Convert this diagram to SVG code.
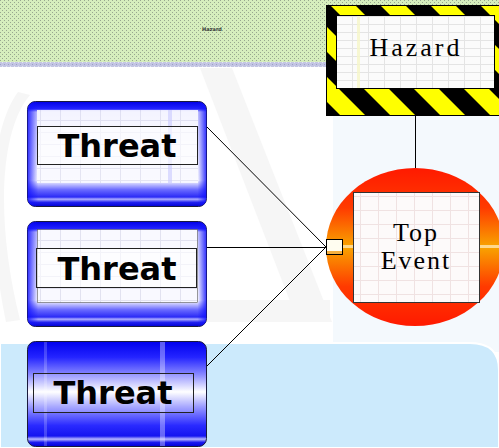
<svg xmlns="http://www.w3.org/2000/svg" width="499" height="448" viewBox="0 0 499 448">
  <style>
    .threat-box { stroke: #1a1a3a; stroke-width: 1; }
    .label-box { stroke: #222; stroke-width: 1; }
    .threat-text { font-family: "DejaVu Sans", Verdana, sans-serif; font-weight: bold; font-size: 32px; fill: #000; text-anchor: middle; }
    .serif-text { font-family: "Liberation Serif", "Times New Roman", serif; font-size: 26px; fill: #000; text-anchor: middle; letter-spacing: 2px; }
    .connector { stroke: #000; stroke-width: 1; fill: none; }
  </style>
  <defs>
    <pattern id="dotsGreen" width="4" height="4" patternUnits="userSpaceOnUse">
      <rect width="4" height="4" fill="#d6eebd"/>
      <rect x="0" y="0" width="1" height="1" fill="#98a88e"/>
      <rect x="2" y="2" width="1" height="1" fill="#98a88e"/>
    </pattern>
    <pattern id="dotsLav" width="4" height="4" patternUnits="userSpaceOnUse">
      <rect width="4" height="4" fill="#c3c5e3"/>
      <rect x="0" y="0" width="1" height="1" fill="#9ea0c8"/>
      <rect x="2" y="2" width="1" height="1" fill="#e4e5f4"/>
    </pattern>
    <pattern id="hazardStripes" width="35.36" height="35.36" patternUnits="userSpaceOnUse" patternTransform="rotate(-45)">
      <rect width="35.36" height="35.36" fill="#ffff00"/>
      <rect width="17.68" height="35.36" fill="#000"/>
    </pattern>
    <pattern id="gridGray" width="16" height="16" patternUnits="userSpaceOnUse">
      <rect width="16" height="16" fill="#fbfbfb"/>
      <path d="M0 0.5H16M0.5 0V16M0 8.5H16" stroke="#e4e4e4" stroke-width="1" fill="none"/>
    </pattern>
    <pattern id="gridBlue" width="20" height="12" patternUnits="userSpaceOnUse">
      <rect width="20" height="12" fill="#f9f9ff"/>
      <path d="M0 0.5H20M0.5 0V12" stroke="#e2e2f0" stroke-width="1" fill="none"/>
    </pattern>
    <pattern id="gridPink" width="18" height="14" patternUnits="userSpaceOnUse">
      <rect width="18" height="14" fill="#fdfafa"/>
      <path d="M0 0.5H18M0.5 0V14" stroke="#f0e2e2" stroke-width="1" fill="none"/>
    </pattern>
    <linearGradient id="threatFill" x1="0" y1="0" x2="0" y2="1">
      <stop offset="0" stop-color="#0000e6"/>
      <stop offset="0.07" stop-color="#2323ff"/>
      <stop offset="0.1" stop-color="#c8c8ff"/>
      <stop offset="0.75" stop-color="#ffffff"/>
      <stop offset="0.84" stop-color="#6a6aff"/>
      <stop offset="0.91" stop-color="#2a2af6"/>
      <stop offset="0.93" stop-color="#b0b0ff"/>
      <stop offset="0.96" stop-color="#2020f0"/>
      <stop offset="1" stop-color="#0000d4"/>
    </linearGradient>
    <linearGradient id="threatFill3" x1="0" y1="0" x2="0" y2="1">
      <stop offset="0" stop-color="#0000ee"/>
      <stop offset="0.15" stop-color="#2424ff"/>
      <stop offset="0.32" stop-color="#8c8cff"/>
      <stop offset="0.48" stop-color="#ffffff"/>
      <stop offset="0.62" stop-color="#9a9aff"/>
      <stop offset="0.8" stop-color="#2a2aff"/>
      <stop offset="0.9" stop-color="#1414f0"/>
      <stop offset="0.93" stop-color="#b8b8ff"/>
      <stop offset="0.96" stop-color="#1a1af0"/>
      <stop offset="1" stop-color="#0000d8"/>
    </linearGradient>
    <linearGradient id="sideShade" x1="0" y1="0" x2="1" y2="0">
      <stop offset="0" stop-color="#1010ff" stop-opacity="0.85"/>
      <stop offset="0.06" stop-color="#1010ff" stop-opacity="0"/>
      <stop offset="0.95" stop-color="#1010ff" stop-opacity="0"/>
      <stop offset="1" stop-color="#1010ff" stop-opacity="0.85"/>
    </linearGradient>
    <linearGradient id="eventFill" x1="0" y1="0" x2="0" y2="1">
      <stop offset="0" stop-color="#ff1a00"/>
      <stop offset="0.25" stop-color="#ff3a00"/>
      <stop offset="0.5" stop-color="#f8a400"/>
      <stop offset="0.75" stop-color="#ff3a00"/>
      <stop offset="1" stop-color="#ff1a00"/>
    </linearGradient>
  </defs>

  <!-- backdrop -->
  <rect width="499" height="448" fill="#ffffff"/>
  <g id="watermark" fill="#ececec" opacity="0.45">
    <polygon points="200,68 232,68 332,322 298,322"/>
    <polygon points="205,300 330,300 330,322 205,322"/>
    <path d="M30,95 C0,130 -5,220 20,320 L6,322 C-15,220 -10,130 18,92 Z"/>
  </g>
  <rect x="333" y="62" width="166" height="290" fill="#f4f9fd"/>
  <path d="M0,343 H470 Q499,343 499,370 V448 H0 Z" fill="#cceafc" stroke="#ffffff" stroke-width="2"/>

  <!-- top banner -->
  <g id="banner">
    <rect x="0" y="0" width="499" height="62" fill="url(#dotsGreen)"/>
    <rect x="0" y="62" width="499" height="5" fill="url(#dotsLav)"/>
    <text x="212" y="31" font-family="'DejaVu Sans', sans-serif" font-size="5" font-weight="bold" fill="#333" text-anchor="middle">Hazard</text>
  </g>

  <!-- connectors -->
  <g id="connectors">
    <line class="connector" x1="415.5" y1="115" x2="415.5" y2="168"/>
    <line class="connector" x1="207" y1="127" x2="326" y2="247"/>
    <line class="connector" x1="207" y1="247.5" x2="326" y2="247.5"/>
    <line class="connector" x1="207" y1="366" x2="326" y2="247"/>
  </g>

  <!-- hazard -->
  <g id="hazard">
    <rect x="326.5" y="5.5" width="173" height="110" fill="url(#hazardStripes)" stroke="#000" stroke-width="1"/>
    <rect x="336.5" y="15.5" width="158" height="73" fill="url(#gridGray)" stroke="#000" stroke-width="1"/>
    <rect x="357" y="16" width="3" height="72" fill="#f6f6c8" opacity="0.8"/>
    <text class="serif-text" x="416" y="56" style="letter-spacing:3px">Hazard</text>
  </g>

  <!-- top event -->
  <g id="top-event">
    <ellipse cx="415" cy="247" rx="89" ry="79" fill="url(#eventFill)"/>
    <rect x="326" y="245" width="173" height="3" fill="#ffe6b0" opacity="0.8"/>
    <rect x="353.5" y="192.5" width="126" height="110" fill="url(#gridPink)" stroke="#333" stroke-width="1"/>
    <text class="serif-text" x="416" y="241">Top</text>
    <text class="serif-text" x="416" y="269">Event</text>
    <rect x="326.5" y="239.5" width="16" height="15" fill="#fffdf0" stroke="#000" stroke-width="1"/>
    <rect x="327" y="251" width="15" height="3" fill="#f4b040"/>
  </g>

  <!-- threat 1 -->
  <g id="threat-1">
    <rect class="threat-box" x="27.5" y="101.5" width="179" height="105" rx="8" fill="url(#threatFill)"/>
    <rect x="27.5" y="101.5" width="179" height="105" rx="8" fill="url(#sideShade)"/>
    <rect x="37" y="110" width="161" height="73" fill="url(#gridBlue)" opacity="0.9"/>
    <rect x="168" y="110" width="4" height="73" fill="#c8c8ff" opacity="0.6"/>
    <rect class="label-box" x="37.5" y="126.5" width="160" height="38" fill="#ffffff" fill-opacity="0.6"/>
    <text class="threat-text" x="117" y="157">Threat</text>
  </g>

  <!-- threat 2 -->
  <g id="threat-2">
    <rect class="threat-box" x="27.5" y="221.5" width="179" height="105" rx="8" fill="url(#threatFill)"/>
    <rect x="27.5" y="221.5" width="179" height="105" rx="8" fill="url(#sideShade)"/>
    <rect x="37.5" y="229.5" width="160" height="73" fill="url(#gridBlue)" stroke="#555" stroke-width="0.6"/>
    <rect class="label-box" x="36.5" y="248.5" width="160" height="39" fill="#ffffff" fill-opacity="0.6"/>
    <text class="threat-text" x="117" y="280">Threat</text>
  </g>

  <!-- threat 3 -->
  <g id="threat-3">
    <rect class="threat-box" x="27.5" y="341.5" width="179" height="105" rx="8" fill="url(#threatFill3)"/>
    <rect x="160" y="342" width="5" height="104" fill="#ffffff" opacity="0.35"/>
    <rect x="44" y="342" width="3" height="104" fill="#ffffff" opacity="0.2"/>
    <rect class="label-box" x="33.5" y="373.5" width="160" height="39" fill="#ffffff" fill-opacity="0.15"/>
    <text class="threat-text" x="113" y="404">Threat</text>
  </g>
</svg>
